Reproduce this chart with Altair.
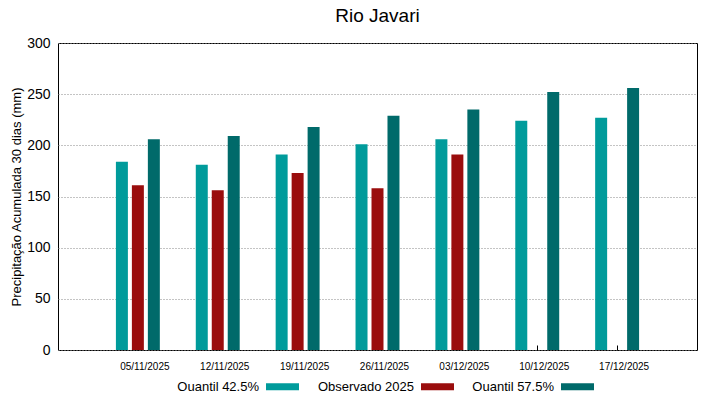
import altair as alt
import pandas as pd

dates = ["05/11/2025", "12/11/2025", "19/11/2025", "26/11/2025",
         "03/12/2025", "10/12/2025", "17/12/2025"]
q425 = [184, 181, 191, 201, 206, 224, 227]
obs = [161, 156, 173, 158, 191, None, None]
q575 = [206, 209, 218, 229, 235, 252, 256]

series = ["Quantil 42.5%", "Observado 2025", "Quantil 57.5%"]
colors = ["#009b9b", "#9a0d0d", "#006a6a"]

rows = []
for i, d in enumerate(dates):
    for s, vals in zip(series, [q425, obs, q575]):
        if vals[i] is not None:
            rows.append({"data": d, "serie": s, "valor": vals[i]})
df = pd.DataFrame(rows)

FONT = "Liberation Sans"

bars = alt.Chart(df).mark_bar(strokeWidth=0).encode(
    x=alt.X("data:N", sort=dates, title=None,
            scale=alt.Scale(paddingInner=0.4, paddingOuter=0.7),
            axis=alt.Axis(labelAngle=0, labelFontSize=10, labelFont=FONT,
                          labelColor="#000", ticks=True,
                          tickSize={"expr": "-5"}, tickColor="#000",
                          domain=False, labelPadding=16, labelOffset=7)),
    xOffset=alt.XOffset("serie:N", sort=series,
                        scale=alt.Scale(paddingInner=0.25, paddingOuter=0.125)),
    y=alt.Y("valor:Q", title="Precipitação Acumulada 30 dias (mm)",
            scale=alt.Scale(domain=[0, 300], nice=False),
            axis=alt.Axis(values=[0, 50, 100, 150, 200, 250, 300],
                          labelFontSize=14, labelFont=FONT, labelColor="#000",
                          titleFontSize=13, titleFont=FONT, titleFontWeight="normal",
                          titleColor="#000", titlePadding=3,
                          ticks=False, domain=False, labelPadding=8,
                          grid=True, gridDash=[1, 2], gridColor="#888",
                          gridWidth=1)),
    color=alt.Color("serie:N", sort=series,
                    scale=alt.Scale(domain=series, range=colors),
                    legend=alt.Legend(title=None, orient="none",
                                      legendX=208, legendY=327,
                                      direction="horizontal",
                                      symbolType="M-1,-0.21H1V0.21H-1Z",
                                      symbolSize=1089, symbolStrokeWidth=0,
                                      labelFont=FONT, labelFontSize=13,
                                      labelColor="#000", labelAlign="right",
                                      labelOffset={"expr": "-40"},
                                      columnPadding=18)),
)

chart = bars.properties(
    width=639, height=307,
    title=alt.Title("Rio Javari", font=FONT, fontSize=19, fontWeight="normal",
                    color="#000", offset=10),
    autosize=alt.AutoSizeParams(type="none"),
    padding={"left": 50, "top": 35, "right": 14, "bottom": 41},
).configure(background="white", view=alt.ViewConfig(stroke="#000", strokeWidth=1))

chart.save("out.html", embed_options={"renderer": "svg", "actions": False})
